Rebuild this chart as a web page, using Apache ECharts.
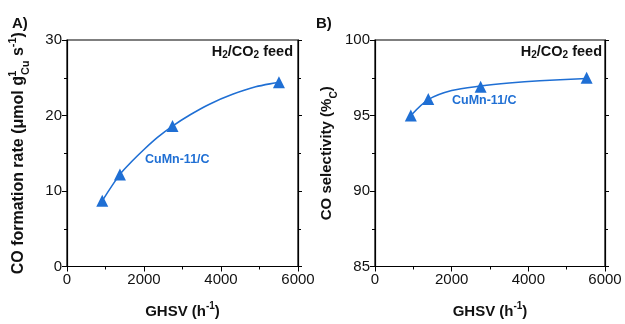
<!DOCTYPE html>
<html>
<head>
<meta charset="utf-8">
<script src="https://cdn.jsdelivr.net/npm/echarts@6/dist/echarts.min.js"></script>
<style>
  html, body { margin: 0; padding: 0; background: #fff; }
  #main { width: 625px; height: 324px; }
</style>
</head>
<body>
<div id="main"></div>
<script>
const ghsvA = [915, 1375, 2740, 5505];
const rateA = [8.7, 12.2, 18.6, 24.4];
const ghsvB = [935, 1390, 2755, 5520];
const selB = [95.0, 96.1, 96.9, 97.5];
// fitted curves, also
const fitGhsvA = [915, 1375, 1700, 2000, 2350, 2740, 3200, 3700, 4300, 4900, 5505];
const fitRateA = [8.7, 12.2, 14.0, 15.5, 17.1, 18.6, 20.1, 21.5, 22.8, 23.8, 24.4];
const fitGhsvB = [935, 1390, 2000, 2755, 3500, 4300, 5520];
const fitSelB = [95.0, 96.05, 96.65, 96.95, 97.15, 97.3, 97.45];
const seriesName = "CuMn-11/C";

const blue = "#1f6fd4";
const font = "Liberation Sans, Arial, sans-serif";

let chart = echarts.init(document.getElementById("main"));

// bottom x axis
function xBottom(grid) {
  return {
    gridIndex: grid, type: "value", min: 0, max: 6000, interval: 2000,
    position: "bottom",
    axisLine: { show: true, onZero: false, lineStyle: { color: "#000", width: 1.2 } },
    axisTick: { show: true, inside: false, length: 5, lineStyle: { color: "#000" } },
    minorTick: { show: true, splitNumber: 2, length: 3, lineStyle: { color: "#000" } },
    axisLabel: { color: "#111", fontSize: 15, fontFamily: font, margin: 6, formatter: v => String(v) },
    splitLine: { show: false },
    name: "{t|GHSV (h}{sup|-1}{t|)}",
    nameLocation: "middle", nameGap: 35,
    nameTextStyle: {
      rich: {
        t: { fontSize: 15, fontWeight: "bold", fontFamily: font, color: "#111", lineHeight: 20 },
        sup: { fontSize: 10, fontWeight: "bold", fontFamily: font, color: "#111", verticalAlign: "top", lineHeight: 20 }
      }
    }
  };
}
function yLeft(grid, min, max, interval, name, rich) {
  return {
    gridIndex: grid, type: "value", min: min, max: max, interval: interval,
    position: "left",
    axisLine: { show: true, onZero: false, lineStyle: { color: "#000", width: 1.2 } },
    axisTick: { show: true, inside: false, length: 5, lineStyle: { color: "#000" } },
    minorTick: { show: true, splitNumber: 2, length: 3, lineStyle: { color: "#000" } },
    axisLabel: { color: "#111", fontSize: 15, fontFamily: font, margin: 5 },
    splitLine: { show: false },
    name: name, nameLocation: "middle", nameGap: 36, nameRotate: 90,
    nameTextStyle: { rich: rich }
  };
}
function yRight(grid, min, max, interval) {
  return {
    gridIndex: grid, type: "value", min: min, max: max, interval: interval,
    position: "right",
    axisLine: { show: true, onZero: false, lineStyle: { color: "#000", width: 1.2 } },
    axisTick: { show: true, inside: false, length: 4, lineStyle: { color: "#000" } },
    minorTick: { show: true, splitNumber: 2, length: 3, lineStyle: { color: "#000" } },
    axisLabel: { show: false }, splitLine: { show: false }
  };
}

function titleRich(size) {
  const s = size * 0.68;
  return {
    t: { fontSize: size, fontWeight: "bold", fontFamily: font, color: "#111", lineHeight: 24 },
    sup: { fontSize: s, fontWeight: "bold", fontFamily: font, color: "#111", verticalAlign: "top", lineHeight: 24 },
    sp: { fontSize: s, fontWeight: "bold", fontFamily: font, color: "#111", verticalAlign: "top", lineHeight: 24, width: 1 },
    sub: { fontSize: s, fontWeight: "bold", fontFamily: font, color: "#111", verticalAlign: "bottom", lineHeight: 22 }
  };
}

function feedLabel(right, y) {
  return {
    type: "text", right: right, top: y,
    style: {
      text: "{t|H}{s|2}{t|/CO}{s|2}{t| feed}",
      rich: {
        t: { fontSize: 14.5, fontWeight: "bold", fontFamily: font, fill: "#111", lineHeight: 18 },
        s: { fontSize: 10, fontWeight: "bold", fontFamily: font, fill: "#111", verticalAlign: "bottom", lineHeight: 16 }
      }
    }
  };
}

function fitSeries(xi, yi, xs, ys) {
  return {
    type: "line", xAxisIndex: xi, yAxisIndex: yi,
    data: xs.map((x, i) => [x, ys[i]]),
    smooth: 0.3, showSymbol: false,
    lineStyle: { color: blue, width: 1.6 },
    z: 4, silent: true
  };
}
function pointSeries(xi, yi, xs, ys) {
  return {
    name: seriesName, type: "scatter", xAxisIndex: xi, yAxisIndex: yi,
    data: xs.map((x, i) => [x, ys[i]]),
    symbol: "triangle", symbolSize: 12,
    itemStyle: { color: blue, opacity: 1 },
    z: 5
  };
}

chart.setOption({
  animation: false,
  backgroundColor: "#fff",
  grid: [
    { left: 67, right: 327, top: 40, bottom: 54, show: true, borderColor: "#000", borderWidth: 1.2 },
    { left: 375, right: 20, top: 40, bottom: 54, show: true, borderColor: "#000", borderWidth: 1.2 }
  ],
  xAxis: [xBottom(0), xBottom(1)],
  yAxis: [
    yLeft(0, 0, 30, 10, "{t|CO formation rate (μmol g}{sp|-1}{sub|Cu}{t| s}{sup|-1}{t|)}", titleRich(16)),
    yRight(0, 0, 30, 10),
    yLeft(1, 85, 100, 5, "{t|CO selectivity (%}{sub|C}{t|)}", titleRich(15)),
    yRight(1, 85, 100, 5)
  ],
  series: [
    fitSeries(0, 0, fitGhsvA, fitRateA),
    pointSeries(0, 0, ghsvA, rateA),
    fitSeries(1, 2, fitGhsvB, fitSelB),
    pointSeries(1, 2, ghsvB, selB)
  ],
  graphic: [
    { type: "text", left: 12, top: 16, style: { text: "A)", fontSize: 15, fontWeight: "bold", fontFamily: font, fill: "#111" } },
    { type: "text", left: 316, top: 16, style: { text: "B)", fontSize: 15, fontWeight: "bold", fontFamily: font, fill: "#111" } },
    feedLabel(332, 44),
    feedLabel(23, 44),
    { type: "text", left: 145, top: 153, style: { text: seriesName, fontSize: 12.5, fontWeight: "bold", fontFamily: font, fill: blue } },
    { type: "text", left: 452, top: 94, style: { text: seriesName, fontSize: 12.5, fontWeight: "bold", fontFamily: font, fill: blue } }
  ]
});
</script>
</body>
</html>
